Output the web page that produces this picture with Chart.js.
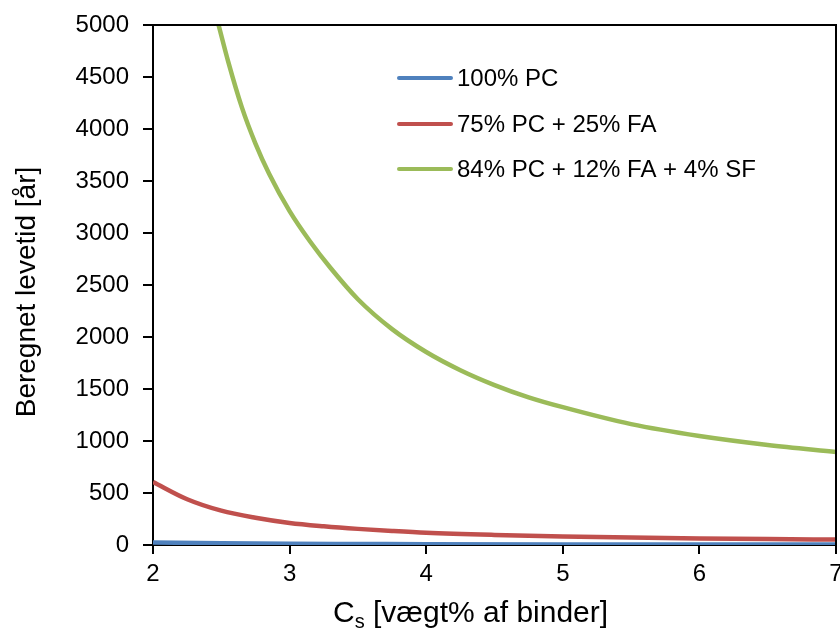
<!DOCTYPE html>
<html>
<head>
<meta charset="utf-8">
<script src="https://cdn.jsdelivr.net/npm/chart.js@4/dist/chart.umd.min.js"></script>
<style>
  body { margin: 0; background: #fff; }
  canvas { display: block; }
</style>
</head>
<body>
<canvas id="levetid" width="840" height="633"></canvas>
<script>
// x = Cs [vægt% af binder], y = beregnet levetid [år]
const pcX = [2, 2.5, 3, 3.5, 4, 5, 6, 7];
const pcY = [25, 17, 12, 10, 8, 6, 5, 4];

const faX = [2, 2.25, 2.5, 2.75, 3, 3.25, 3.5, 3.75, 4, 4.5, 5, 5.5, 6, 6.5, 7];
const faY = [606, 440, 330, 262, 212, 180, 155, 135, 118, 97, 82, 71, 63, 57, 52];

const sfX = [2.48, 2.55, 2.65, 2.75, 2.85, 3, 3.15, 3.3, 3.5, 3.75, 4, 4.25, 4.5, 4.75, 5, 5.5, 6, 6.5, 7];
const sfY = [5000, 4650, 4210, 3860, 3570, 3210, 2918, 2663, 2363, 2076, 1856, 1681, 1538, 1420, 1325, 1162, 1048, 962, 894];

const labels = ['100% PC', '75% PC + 25% FA', '84% PC + 12% FA + 4% SF'];
const colors = ['#4F81BD', '#C0504D', '#9BBB59'];

const FONT = '"Liberation Sans", Arial, sans-serif';

function pts(xs, ys) {
    return xs.map((x, i) => ({ x: x, y: ys[i] }));
}

/*------------------------------------------frame, titles, legend----------------------------------------------*/
const extras = {
    id: 'extras',
    afterDraw(chart) {
        const c = chart.ctx;
        const a = chart.chartArea;
        c.save();
        // top + right border of plot
        c.strokeStyle = '#000';
        c.lineWidth = 2;
        c.beginPath();
        c.moveTo(a.left, a.top);
        c.lineTo(a.right, a.top);
        c.lineTo(a.right, a.bottom);
        c.stroke();

        // y title
        c.fillStyle = '#000';
        c.font = '28px ' + FONT;
        c.save();
        c.translate(35, 292);
        c.rotate(-Math.PI / 2);
        c.textAlign = 'center';
        c.textBaseline = 'alphabetic';
        c.fillText('Beregnet levetid [år]', 0, 0);
        c.restore();

        // x title with subscript
        const big = '30px ' + FONT, small = '20px ' + FONT;
        const rest = ' [vægt% af binder]';
        let x = 333;
        const base = 622;
        c.textAlign = 'left';
        c.textBaseline = 'alphabetic';
        c.font = big;
        c.fillText('C', x, base);
        x += c.measureText('C').width;
        c.font = small;
        c.fillText('s', x, base + 6);
        x += c.measureText('s').width;
        c.font = big;
        c.fillText(rest, x, base);

        // legend
        c.font = '24px ' + FONT;
        c.textBaseline = 'middle';
        const rows = [78, 124, 169];
        chart.data.datasets.forEach((ds, i) => {
            c.strokeStyle = ds.borderColor;
            c.lineWidth = 4;
            c.lineCap = 'round';
            c.beginPath();
            c.moveTo(399, rows[i]);
            c.lineTo(451, rows[i]);
            c.stroke();
            c.fillText(ds.label, 457, rows[i] + 1);
        });
        c.restore();
    }
};

let ctx = document.getElementById('levetid').getContext('2d');
let levetid = new Chart(ctx, {
    type: 'line',
    data: {
        datasets: [
            { label: labels[0], data: pts(pcX, pcY), borderColor: colors[0] },
            { label: labels[1], data: pts(faX, faY), borderColor: colors[1] },
            { label: labels[2], data: pts(sfX, sfY), borderColor: colors[2] }
        ]
    },
    options: {
        responsive: false,
        animation: false,
        layout: { padding: { top: 25, right: 4, left: 0, bottom: 0 } },
        elements: {
            line: { borderWidth: 4.5, cubicInterpolationMode: 'monotone', fill: false },
            point: { radius: 0, hoverRadius: 0 }
        },
        plugins: {
            legend: { display: false },
            tooltip: { enabled: false }
        },
        scales: {
            x: {
                type: 'linear',
                min: 2,
                max: 7,
                ticks: {
                    stepSize: 1, color: '#000', font: { family: FONT, size: 24 }, padding: 6, maxRotation: 0,
                    callback: v => String(v)
                },
                grid: { drawOnChartArea: false, drawTicks: true, tickLength: 9, color: '#000', lineWidth: 2 },
                border: { color: '#000', width: 2 },
                afterFit(scale) {
                    scale.height = 88;
                    scale.paddingLeft = 0;
                    scale.paddingRight = 0;
                }
            },
            y: {
                min: 0,
                max: 5000,
                ticks: {
                    stepSize: 500, color: '#000', font: { family: FONT, size: 24 }, padding: 14,
                    callback: v => String(v)
                },
                grid: { drawOnChartArea: false, drawTicks: true, tickLength: 10, color: '#000', lineWidth: 2 },
                border: { color: '#000', width: 2 },
                afterFit(scale) {
                    scale.width = 153;
                    scale.paddingTop = 0;
                    scale.paddingBottom = 0;
                }
            }
        }
    },
    plugins: [extras]
});
</script>
</body>
</html>
